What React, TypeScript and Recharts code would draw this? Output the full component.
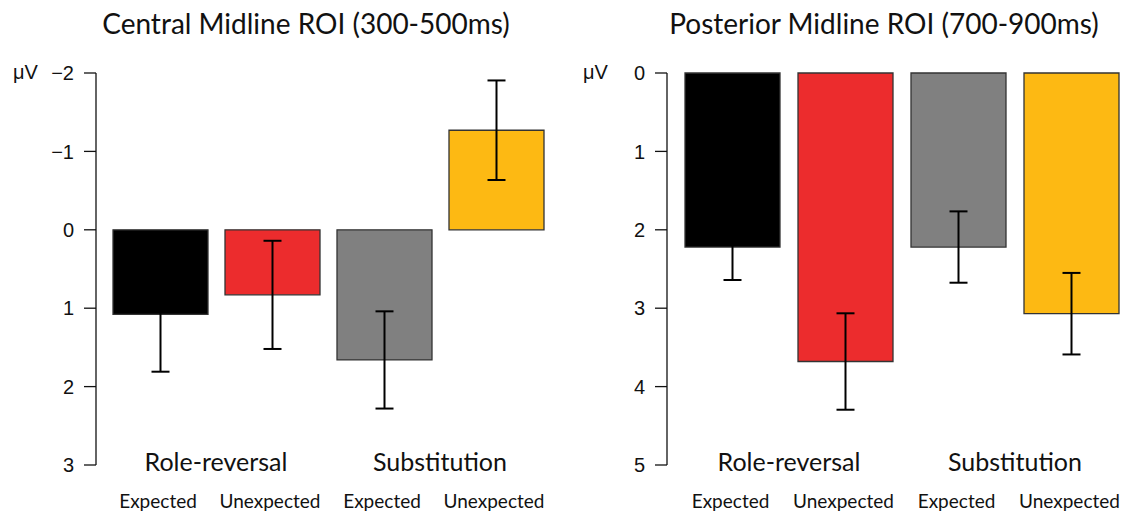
import { Bar, BarChart, Cell, ErrorBar, XAxis, YAxis } from "recharts";

const CONDITIONS = ["Expected", "Unexpected", "Expected", "Unexpected"];
const GROUPS = ["Role-reversal", "Substitution"];
const COLORS = ["#000000", "#EC2C2D", "#808080", "#FDB913"];

// Central midline ROI, 300-500ms
const CENTRAL_MEAN = [1.08, 0.83, 1.66, -1.27];
const CENTRAL_ERR = [0.73, 0.69, 0.62, 0.635];
const CENTRAL_TICKS = [-2, -1, 0, 1, 2, 3];

// Posterior midline ROI, 700-900ms
const POSTERIOR_MEAN = [2.22, 3.68, 2.22, 3.07];
const POSTERIOR_ERR = [0.42, 0.615, 0.455, 0.52];
const POSTERIOR_TICKS = [0, 1, 2, 3, 4, 5];

const LABEL_FONT = "Lato, 'Open Sans', sans-serif";
const AXIS_FONT = "'Liberation Sans', Arial, sans-serif";

const fmtTick = (v: number) => (v < 0 ? `\u2212${-v}` : String(v));

function CategoryTick(props: any) {
  const { x, y, payload } = props;
  const i = Number(payload.value);
  const half = payload.offset ?? 56;
  return (
    <g>
      {i % 2 === 0 && (
        <text
          x={x + half}
          y={y + 6}
          textAnchor="middle"
          fontFamily={LABEL_FONT}
          fontSize={25}
          fill="#111"
        >
          {GROUPS[i / 2]}
        </text>
      )}
      <text x={x - 2} y={y + 43} textAnchor="middle" fontFamily={LABEL_FONT} fontSize={19} fill="#111">
        {CONDITIONS[i]}
      </text>
    </g>
  );
}

interface PanelProps {
  left: number;
  width: number;
  axisWidth: number;
  padLeft: number;
  padRight: number;
  title: string;
  titleCenter: number;
  mean: number[];
  err: number[];
  ticks: number[];
}

function Panel({
  left,
  width,
  axisWidth,
  padLeft,
  padRight,
  title,
  titleCenter,
  mean,
  err,
  ticks,
}: PanelProps) {
  const data = mean.map((m, i) => ({ idx: i, mean: m, err: err[i] }));
  return (
    <>
      <div
        style={{
          position: "absolute",
          left: titleCenter - 300,
          width: 600,
          top: 6,
          textAlign: "center",
          fontFamily: LABEL_FONT,
          fontSize: 28,
          color: "#111",
        }}
      >
        {title}
      </div>
      <div
        style={{
          position: "absolute",
          left: left + 13,
          top: 61,
          fontFamily: AXIS_FONT,
          fontSize: 20,
          color: "#111",
        }}
      >
        μV
      </div>
      <div style={{ position: "absolute", left, top: 0 }}>
        <BarChart
          width={width}
          height={513}
          data={data}
          margin={{ top: 73, right: 0, bottom: 0, left: 0 }}
          barCategoryGap={0}
          barSize={95}
        >
          <XAxis
            dataKey="idx"
            height={48}
            axisLine={false}
            tickLine={false}
            tickSize={0}
            tickMargin={0}
            padding={{ left: padLeft, right: padRight }}
            tick={<CategoryTick />}
            interval={0}
          />
          <YAxis
            type="number"
            reversed
            domain={[ticks[0], ticks[ticks.length - 1]]}
            ticks={ticks}
            width={axisWidth}
            tickSize={12}
            tickMargin={10}
            tickFormatter={fmtTick}
            axisLine={{ stroke: "#111", strokeWidth: 1.3 }}
            tickLine={{ stroke: "#111", strokeWidth: 1.3 }}
            tick={{ fill: "#111", fontSize: 20, fontFamily: AXIS_FONT }}
          />
          <Bar dataKey="mean" stroke="#333" strokeWidth={1.3} isAnimationActive={false}>
            {data.map((_, i) => (
              <Cell key={i} fill={COLORS[i]} />
            ))}
            <ErrorBar dataKey="err" direction="y" width={9} stroke="#000" strokeWidth={2} />
          </Bar>
        </BarChart>
      </div>
    </>
  );
}

export default function App() {
  return (
    <div
      style={{
        position: "absolute",
        left: 0,
        top: 0,
        width: 1128,
        height: 513,
        background: "#fff",
        overflow: "hidden",
      }}
    >
      <Panel
        left={0}
        width={560}
        axisWidth={96}
        padLeft={8}
        padRight={8}
        title="Central Midline ROI (300-500ms)"
        titleCenter={306}
        mean={CENTRAL_MEAN}
        err={CENTRAL_ERR}
        ticks={CENTRAL_TICKS}
      />
      <Panel
        left={570}
        width={558}
        axisWidth={97}
        padLeft={9}
        padRight={0}
        title="Posterior Midline ROI (700-900ms)"
        titleCenter={884}
        mean={POSTERIOR_MEAN}
        err={POSTERIOR_ERR}
        ticks={POSTERIOR_TICKS}
      />
    </div>
  );
}
